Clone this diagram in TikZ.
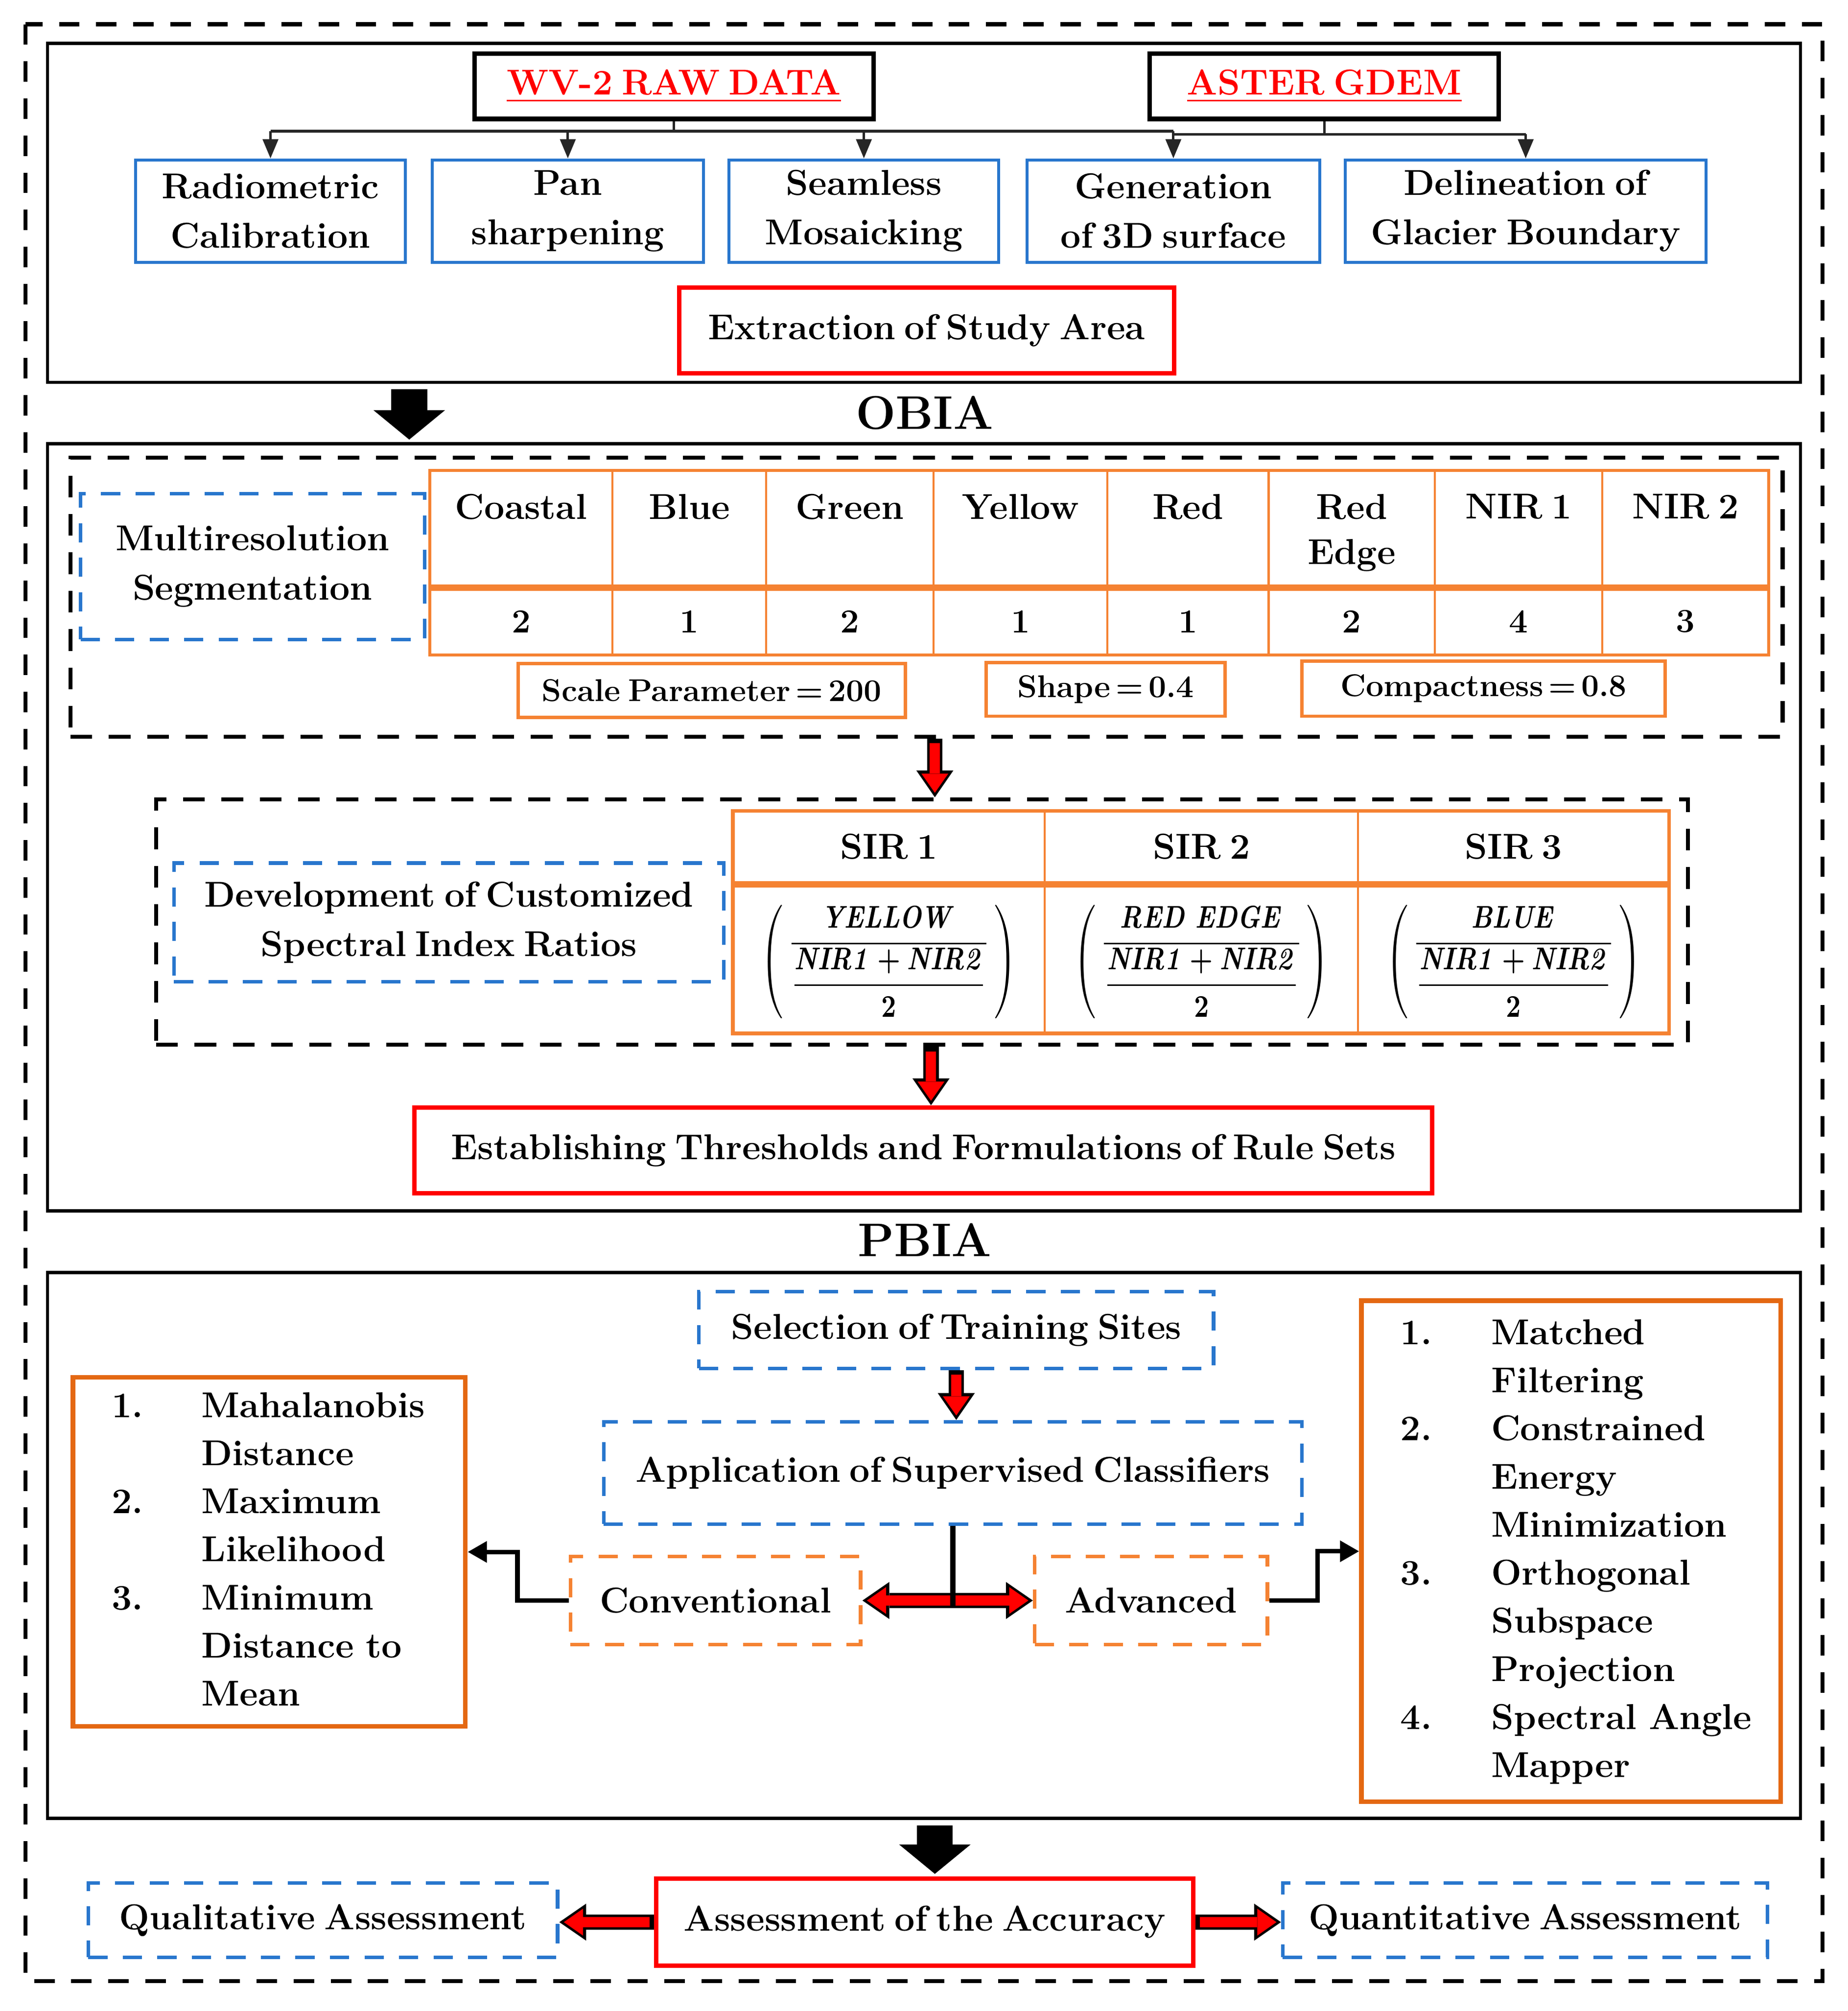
\documentclass[tikz,border=0pt]{standalone}
\usepackage{amsmath}
\usepackage{graphicx}
\usetikzlibrary{arrows.meta}

\definecolor{boxblue}{RGB}{40,118,205}
\definecolor{taborange}{RGB}{245,130,50}
\definecolor{listorange}{RGB}{228,104,18}
\definecolor{boxred}{RGB}{255,0,0}
\newcommand{\tightwords}{\spaceskip 0.25em\relax}

\tikzset{
  stagebox/.style={draw, line width=1.5pt, minimum width=27.42cm},
  stagetitle/.style={font=\fontsize{21}{25}\selectfont\bfseries},
  source/.style={draw, line width=2pt, text=boxred, font=\fontsize{16}{20}\selectfont\bfseries\tightwords, minimum height=1.02cm},
  procbox/.style={draw=boxblue, line width=1.3pt, align=center, minimum height=1.6cm, inner sep=2pt},
  keybox/.style={draw=boxred, line width=2pt, minimum height=1.34cm},
  groupbox/.style={draw, line width=1.8pt, dash pattern=on 0.34cm off 0.26cm},
  bluedash/.style={draw=boxblue, line width=1.6pt, dash pattern=on 0.3cm off 0.24cm, align=center},
  orangedash/.style={draw=taborange, line width=1.6pt, dash pattern=on 0.3cm off 0.24cm, minimum height=1.38cm},
  parambox/.style={draw=taborange, line width=1.5pt, font=\fontsize{14}{18}\selectfont\bfseries\tightwords},
  bandhead/.style={anchor=north, align=center, inner sep=0pt, font=\fontsize{16}{20}\selectfont\bfseries\tightwords},
  bandval/.style={font=\fontsize{15}{18}\selectfont\bfseries},
  ratiotext/.style={font=\fontsize{10}{12}\selectfont},
  tabline/.style={draw=taborange, line width=1.3pt},
  listbox/.style={draw=listorange, line width=2pt, inner xsep=0.61cm, inner ysep=0pt, font=\fontsize{16}{21.4}\selectfont\bfseries\tightwords},
  outerdash/.style={line width=1.8pt, dash pattern=on 0.32cm off 0.26cm},
  busline/.style={line width=1.1pt, black!85},
  thinarrow/.style={busline, -{Triangle[length=0.3cm,width=0.24cm]}},
  blockarrow/.style={line width=0.56cm, -{Triangle[length=0.46cm,width=1.12cm,line width=0pt]}, shorten <=0.08cm, shorten >=0.04cm},
  redback/.style={line width=0.24cm, >={Triangle[length=0.42cm,width=0.58cm,line width=0pt]}},
  redfront/.style={boxred, line width=0.16cm, >={Triangle[length=0.3cm,width=0.42cm,line width=0pt]}, shorten >=0.07cm, shorten <=0.07cm},
  listarrow/.style={line width=2pt, -{Triangle[length=0.3cm,width=0.32cm]}},
  stemline/.style={line width=2.5pt}
}

\begin{document}
\begin{tikzpicture}[x=0.02cm, y=-0.02cm, font=\fontsize{16}{22}\selectfont\bfseries\tightwords]
\useasboundingbox (0,0) rectangle (1445,1572.5);
\draw[outerdash] (20,19) rectangle (1425,1549);

% preprocessing
\node[stagebox, minimum height=5.30cm] (prep) at (722.5,166.5) {};
\node[source, minimum width=6.24cm] (wv) at (527,67.5) {\underline{WV-2 RAW DATA}};
\node[source, minimum width=5.46cm] (aster) at (1035.5,67.5) {\underline{ASTER GDEM}};
\node[procbox, minimum width=4.22cm] (radio) at (211.5,165) {Radiometric\\Calibration};
\node[procbox, minimum width=4.24cm] (pan) at (444,165) {Pan\\sharpening};
\node[procbox, minimum width=4.22cm] (mosaic) at (675.5,165) {Seamless\\Mosaicking};
\node[procbox, minimum width=4.58cm] (gen) at (917.5,165) {Generation\\of 3D surface};
\node[procbox, minimum width=5.64cm] (delin) at (1193,165) {Delineation of\\Glacier Boundary};
\node[keybox, minimum width=7.74cm] (extract) at (724.5,258.5) {Extraction of Study Area};

\coordinate (busA) at (0,102.6);
\coordinate (busB) at (0,105);
\draw[busline] (wv.south) -- (wv.south |- busA);
\draw[busline] (radio.north |- busA) -- (gen.north |- busA);
\foreach \b in {radio,pan,mosaic,gen}
  \draw[thinarrow] (\b.north |- busA) -- (\b.north);
\draw[busline] (aster.south) -- (aster.south |- busB);
\draw[busline] (gen.north |- busB) -- (delin.north |- busB);
\draw[thinarrow] (delin.north |- busB) -- (delin.north);

% OBIA
\node[stagetitle] (obialabel) at (723,323) {OBIA};
\node[stagebox, minimum height=12cm] (obia) at (722.5,647) {};
\node[groupbox, minimum width=26.78cm, minimum height=4.36cm] (segbox) at (724.5,467) {};
\node[bluedash, minimum width=5.38cm, minimum height=2.28cm] (multires) at (197.5,443) {Multiresolution\\Segmentation};
\foreach \band/\xl/\xr/\val [count=\i] in {Coastal/336/479/2, Blue/479/599/1, Green/599/730/2, Yellow/730/866/1, Red/866/992/1, {Red\\Edge}/992/1122/2, {NIR 1}/1122/1253/4, {NIR 2}/1253/1383/3} {
  \node[bandhead] (band\i) at ({(\xl+\xr)/2},386) {\band};
  \node[bandval] (bval\i) at ({(\xl+\xr)/2},486) {\val};
  \draw[tabline, line width=0.9pt] (\xl,368) -- (\xl,512);
}
\draw[tabline] (336,368) rectangle (1383,512);
\draw[tabline, line width=3pt] (336,459.5) -- (1383,459.5);
\node[parambox, minimum width=6.06cm, minimum height=0.84cm] (scale) at (556.5,540) {Scale Parameter\,=\,200};
\node[parambox, minimum width=3.74cm, minimum height=0.84cm] (shape) at (864.5,539) {Shape\,=\,0.4};
\node[parambox, minimum width=5.68cm, minimum height=0.86cm] (compact) at (1160,538.5) {Compactness\,=\,0.8};

\node[groupbox, minimum width=23.96cm, minimum height=3.84cm] (sirbox) at (721,721) {};
\node[bluedash, minimum width=8.60cm, minimum height=1.86cm] (develop) at (351,721.3) {Development of Customized\\Spectral Index Ratios};
\foreach \sir/\num/\xl/\xr [count=\i] in {1/YELLOW/573/817, 2/{RED\ EDGE}/817/1062, 3/BLUE/1062/1305} {
  \node (sir\i) at ({(\xl+\xr)/2},662) {SIR \sir};
  \node[ratiotext] (ratio\i) at ({(\xl+\xr)/2},752) {\scalebox{1.15}[1.4]{\boldmath$\left(\,\vcenter{\hbox{$\displaystyle\dfrac{\mathit{\num}}{\dfrac{\mathit{NIR1}+\mathit{NIR2}}{2}}$}}\,\right)$}};
  \draw[tabline, line width=0.9pt] (\xl,634) -- (\xl,808);
}
\draw[tabline, line width=1.6pt] (573,634) rectangle (1305,808);
\draw[tabline, line width=2.7pt] (573,691.5) -- (1305,691.5);
\node[keybox, minimum width=15.92cm] (rules) at (722,899.5) {Establishing Thresholds and Formulations of Rule Sets};

% PBIA
\node[stagetitle] (pbialabel) at (723,969.5) {PBIA};
\node[stagebox, minimum height=8.54cm] (pbia) at (722.5,1208.5) {};
\node[bluedash, minimum width=8.05cm, minimum height=1.2cm] (select) at (747.75,1040) {Selection of Training Sites};
\node[bluedash, minimum width=10.92cm, minimum height=1.6cm] (appl) at (745,1151.7) {Application of Supervised Classifiers};
\node[orangedash, minimum width=4.54cm] (conv) at (559.5,1251.5) {Conventional};
\node[orangedash, minimum width=3.64cm] (adv) at (900,1251.5) {Advanced};
\node[listbox, text width=4.92cm, minimum height=5.46cm] (convlist) at (210.5,1213.5) {%
  \begin{tabular}{@{}p{1.4cm}@{}l@{}}
  1. & Mahalanobis\\ & Distance\\
  2. & Maximum\\ & Likelihood\\
  3. & Minimum\\ & Distance to\\ & Mean
  \end{tabular}};
\node[listbox, text width=5.34cm, minimum height=7.84cm] (advlist) at (1228.5,1213) {%
  \begin{tabular}{@{}p{1.42cm}@{}l@{}}
  1. & Matched\\ & Filtering\\
  2. & Constrained\\ & Energy\\ & Minimization\\
  3. & Orthogonal\\ & Subspace\\ & Projection\\
  4. & Spectral Angle\\ & Mapper
  \end{tabular}};

% accuracy
\node[keybox, minimum width=8.40cm, minimum height=1.36cm] (accuracy) at (723,1503) {Assessment of the Accuracy};
\node[bluedash, minimum width=7.34cm, minimum height=1.16cm] (quali) at (252.5,1501.5) {Qualitative Assessment};
\node[bluedash, minimum width=7.58cm, minimum height=1.16cm] (quanti) at (1192.5,1501.5) {Quantitative Assessment};

% connectors
\coordinate (downA) at (320,0);
\coordinate (downB) at (731,0);
\coordinate (redA) at (731,0);
\coordinate (redB) at (728,0);
\draw[blockarrow] (prep.south -| downA) -- (obia.north -| downA);
\draw[blockarrow] (pbia.south -| downB) -- (accuracy.north -| downB);

\draw[redback, ->] (segbox.south -| redA) -- (sirbox.north -| redA);
\draw[redfront, ->] (segbox.south -| redA) -- (sirbox.north -| redA);
\draw[redback, ->] (sirbox.south -| redB) -- (rules.north -| redB);
\draw[redfront, ->] (sirbox.south -| redB) -- (rules.north -| redB);
\draw[redback, ->] (select.south) -- (select.south |- appl.north);
\draw[redfront, ->] (select.south) -- (select.south |- appl.north);
\draw[redback, <->] (conv.east) -- (adv.west);
\draw[redfront, <->] (conv.east) -- (adv.west);
\draw[stemline] (appl.south) -- ([yshift=-0.12cm]appl.south |- conv.east);
\draw[listarrow] (conv.west) -- ++(-40,0) |- (convlist.east);
\draw[listarrow] (adv.east) -- ++(38,0) |- (advlist.west);
\draw[redback, ->] (accuracy.west) -- (accuracy.west -| quali.east);
\draw[redfront, ->] (accuracy.west) -- (accuracy.west -| quali.east);
\draw[redback, ->] (accuracy.east) -- (accuracy.east -| quanti.west);
\draw[redfront, ->] (accuracy.east) -- (accuracy.east -| quanti.west);
\end{tikzpicture}
\end{document}
